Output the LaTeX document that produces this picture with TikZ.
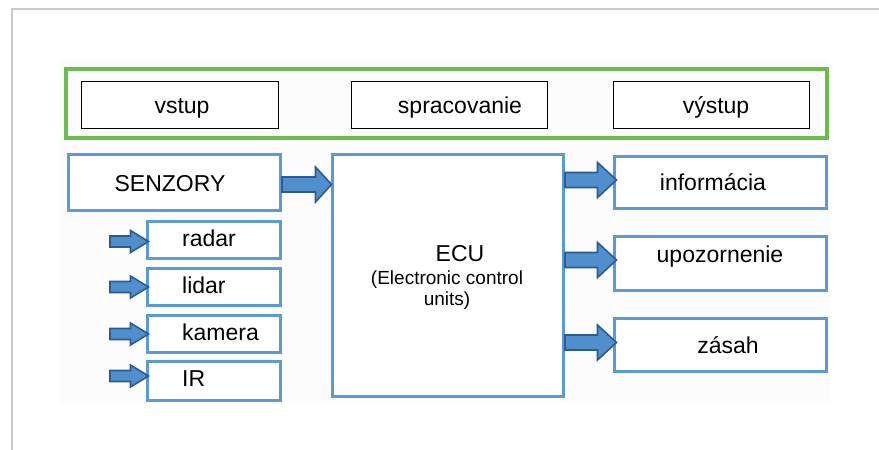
\documentclass[tikz,border=0pt]{standalone}
\usepackage{fontspec}
\setmainfont{Liberation Sans}
\usetikzlibrary{calc}
\definecolor{boxblue}{RGB}{91,155,213}
\definecolor{arrfill}{RGB}{79,143,204}
\definecolor{arrline}{RGB}{45,90,150}
\definecolor{framegreen}{RGB}{106,189,76}
\definecolor{framegray}{RGB}{200,200,200}
\definecolor{paper}{RGB}{252,252,252}
\newcommand\blockarrow[6]{%
  \draw[arr] let \p1=(#1), \p2=(#2), \p3=(#3) in
    (\x1,\y3+#4) -- (\x2-#6,\y3+#4) -- (\x2-#6,\y3+#5) -- (\x2,\y3)
    -- (\x2-#6,\y3-#5) -- (\x2-#6,\y3-#4) -- (\x1,\y3-#4) -- cycle;}
\begin{document}
\begin{tikzpicture}[x=1pt,y=-1pt,
  bluebox/.style={draw=boxblue, line width=3pt, fill=white, inner sep=0pt},
  blackbox/.style={draw=black, line width=1.4pt, fill=white, inner sep=0pt},
  lbl/.style={font=\fontsize{23}{27}\selectfont, inner sep=0pt, anchor=base},
  lblw/.style={lbl, anchor=base west},
  smalllbl/.style={font=\fontsize{19}{22}\selectfont, inner sep=0pt, anchor=base},
  arr/.style={fill=arrfill, draw=arrline, line width=1.6pt, line join=miter}]
\useasboundingbox (0,0) rectangle (879,450);
\fill[white] (0,0) rectangle (879,450);
\fill[paper] (60,60) rectangle (830,403);
\draw[framegray, line width=1.5pt] (879,9) -- (12,9) -- (12,450);

% header frame
\node[draw=framegreen, line width=4pt, inner sep=0pt, minimum width=761, minimum height=69] (frame) at (446,103.5) {};
\node[blackbox, minimum width=197, minimum height=47] (vstup) at (180,105) {};
\node[blackbox, minimum width=196, minimum height=47] (sprac) at (449.5,105) {};
\node[blackbox, minimum width=196, minimum height=47] (vystup) at (711.5,105) {};
\node[lbl] (vstupT) at (182,113) {vstup};
\node[lbl] (spracT) at (460,113) {spracovanie};
\node[lbl] (vystupT) at (716,113) {výstup};

% boxes
\node[bluebox, minimum width=212, minimum height=56] (senz) at (174.5,182.5) {};
\node[bluebox, minimum width=133, minimum height=37] (radar) at (214,240) {};
\node[bluebox, minimum width=133, minimum height=37] (lidar) at (214,287) {};
\node[bluebox, minimum width=133, minimum height=37] (kamera) at (214,333.5) {};
\node[bluebox, minimum width=133, minimum height=39] (ir) at (214,381) {};
\node[bluebox, minimum width=231, minimum height=242] (ecu) at (448,275.5) {};
\node[bluebox, minimum width=212, minimum height=52] (info) at (720.5,182.5) {};
\node[bluebox, minimum width=212, minimum height=54] (upoz) at (720.5,263.5) {};
\node[bluebox, minimum width=212, minimum height=53] (zasah) at (720.5,345) {};

% arrow levels and free ends
\coordinate (lvS) at (0,184.5);
\coordinate (lv1) at (0,180);
\coordinate (lv2) at (0,260);
\coordinate (lv3) at (0,342.5);
\coordinate (inR) at (110,241.5);
\coordinate (inL) at (110,287);
\coordinate (inK) at (110,334);
\coordinate (inI) at (110,376);

% arrows
\blockarrow{senz.east}{$(ecu.west)+(0.5,0)$}{lvS}{7.5pt}{17.5pt}{16pt}
\blockarrow{ecu.east}{$(info.west)+(3.5,0)$}{lv1}{7.5pt}{17.5pt}{19pt}
\blockarrow{ecu.east}{$(upoz.west)+(3.5,0)$}{lv2}{7.5pt}{17.5pt}{19pt}
\blockarrow{ecu.east}{$(zasah.west)+(3.5,0)$}{lv3}{7.5pt}{17.5pt}{19pt}
\blockarrow{inR}{$(radar.west)+(2.5,0)$}{inR}{5.5pt}{11pt}{18pt}
\blockarrow{inL}{$(lidar.west)+(2.5,0)$}{inL}{5.5pt}{11pt}{18pt}
\blockarrow{inK}{$(kamera.west)+(2.5,0)$}{inK}{5.5pt}{11pt}{18pt}
\blockarrow{inI}{$(ir.west)+(2.5,0)$}{inI}{5.5pt}{11pt}{18pt}

% labels
\node[lbl] (senzT) at (170,191) {SENZORY};
\node[lblw] (radarT) at (182,246.5) {radar};
\node[lblw] (lidarT) at (182,293) {lidar};
\node[lblw] (kameraT) at (182,340) {kamera};
\node[lblw] (irT) at (182,386.5) {IR};
\node[lbl] (ecuT) at (460,261) {ECU};
\node[smalllbl] (ecuT2) at (447,284) {(Electronic control};
\node[smalllbl] (ecuT3) at (447,305) {units)};
\node[lbl] (infoT) at (713,190) {informácia};
\node[lbl] (upozT) at (720,262.5) {upozornenie};
\node[lbl] (zasahT) at (728,353) {zásah};
\end{tikzpicture}
\end{document}
